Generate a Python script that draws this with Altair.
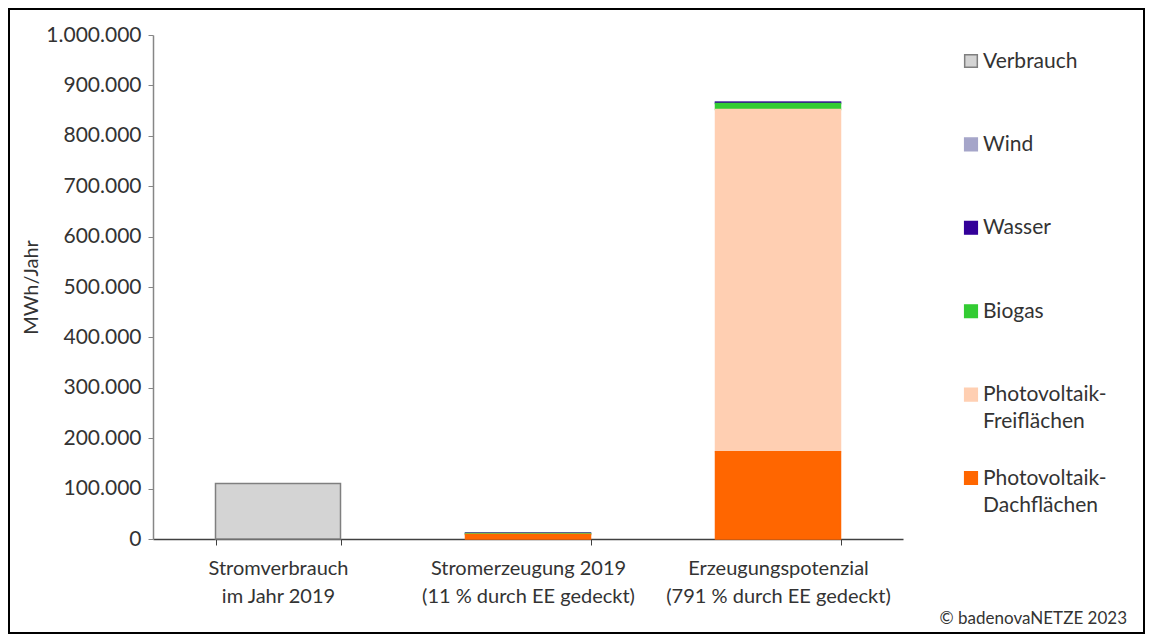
import altair as alt
import pandas as pd

# ---------------- data ----------------
categories = [
    "Stromverbrauch|im Jahr 2019",
    "Stromerzeugung 2019|(11 % durch EE gedeckt)",
    "Erzeugungspotenzial|(791 % durch EE gedeckt)",
]
series = [
    "Verbrauch",
    "Wind",
    "Wasser",
    "Biogas",
    "Photovoltaik-|Freiflächen",
    "Photovoltaik-|Dachflächen",
]
verbrauch = [110000, 0, 0]
wind = [0, 0, 500]
wasser = [0, 1100, 2500]
biogas = [0, 2000, 12000]
pv_frei = [0, 300, 679000]
pv_dach = [0, 8700, 173000]
y_ticks = [0, 100000, 200000, 300000, 400000, 500000, 600000, 700000, 800000, 900000, 1000000]
copyright_text = ["© badenovaNETZE 2023"]

fill_colors = ["#d4d4d4", "#a5a5c9", "#330099", "#33cc33", "#ffcfb2", "#ff6600"]
stroke_colors = ["#7f7f7f", "#a5a5c9", "#330099", "#33cc33", "#ffcfb2", "#ff6600"]

values = [verbrauch, wind, wasser, biogas, pv_frei, pv_dach]
rows = []
for i, s in enumerate(series):
    for j, c in enumerate(categories):
        v = values[i][j]
        if v > 0:
            rows.append({"cat": c, "serie": s, "value": v, "stackorder": len(series) - 1 - i})
df = pd.DataFrame(rows)
leg_df = pd.DataFrame({"serie": series})

FONT = "Lato"
TXT = "#333333"
FS = 21

fill_scale = alt.Scale(domain=series, range=fill_colors)
stroke_scale = alt.Scale(domain=series, range=stroke_colors)

bars = alt.Chart(df).mark_bar(strokeWidth=1.5).encode(
    x=alt.X(
        "cat:N",
        sort=categories,
        scale=alt.Scale(paddingInner=0.5, paddingOuter=0.25),
        axis=alt.Axis(
            title=None,
            labelExpr="split(datum.label, '|')",
            labelAngle=0,
            labelLimit=0,
            tickBand="extent",
            labelFontSize=20,
            labelLineHeight=28,
            labelPadding=13,
            labelColor=TXT,
            labelFont=FONT,
            domainColor="#404040",
            tickColor="#404040",
            tickSize=6,
            domainWidth=1.5,
            labelBaseline="top",
        ),
    ),
    y=alt.Y(
        "value:Q",
        stack="zero",
        scale=alt.Scale(domain=[0, 1000000], nice=False),
        axis=alt.Axis(
            values=y_ticks,
            labelExpr="replace(replace(format(datum.value, ','), ',', '.'), ',', '.')",
            title="MWh/Jahr",
            grid=False,
            labelFontSize=FS,
            labelColor=TXT,
            labelFont=FONT,
            titleFont=FONT,
            titleFontSize=20,
            titleFontWeight="normal",
            titleColor=TXT,
            titlePadding=4,
            domainColor="#868686",
            tickColor="#868686",
            domainWidth=1.5,
            tickSize=5,
            labelPadding=7,
        ),
    ),
    fill=alt.Fill("serie:N", scale=fill_scale, legend=None),
    stroke=alt.Stroke("serie:N", scale=stroke_scale, legend=None),
    order=alt.Order("stackorder:Q", sort="ascending"),
)

leg_y = alt.Y(
    "serie:N", sort=series,
    scale=alt.Scale(type="point", range=[26, 443], padding=0),
    axis=None,
)

leg_sq = alt.Chart(leg_df).mark_square(size=160, strokeWidth=1.5, opacity=1).encode(
    x=alt.value(818),
    y=leg_y,
    fill=alt.Fill("serie:N", scale=fill_scale, legend=None),
    stroke=alt.Stroke("serie:N", scale=stroke_scale, legend=None),
)

leg_txt = alt.Chart(leg_df).mark_text(
    align="left", baseline="line-top", lineBreak="|", lineHeight=27, dy=-13.5,
    fontSize=FS, font=FONT, color=TXT,
).encode(
    x=alt.value(830),
    y=leg_y,
    text="serie:N",
)

border = alt.Chart(pd.DataFrame({"a": [1]})).mark_rect(
    filled=False, stroke="#000000", strokeWidth=2
).encode(
    x=alt.value(-144), x2=alt.value(991), y=alt.value(-26), y2=alt.value(598)
)

copy = alt.Chart(pd.DataFrame({"t": copyright_text})).mark_text(
    align="right", baseline="middle", fontSize=17, font=FONT, color=TXT
).encode(
    x=alt.value(974), y=alt.value(584), text="t:N"
)

chart = (
    alt.layer(bars, leg_sq, leg_txt, border, copy)
    .resolve_scale(y="independent")
    .properties(
        width=750,
        height=504,
        autosize=alt.AutoSizeParams(type="none"),
        padding={"left": 145, "top": 27, "right": 242, "bottom": 95},
    )
    .configure(font=FONT)
    .configure_view(stroke=None)
)

chart.save("out.html", embed_options={"renderer": "svg", "actions": False})
